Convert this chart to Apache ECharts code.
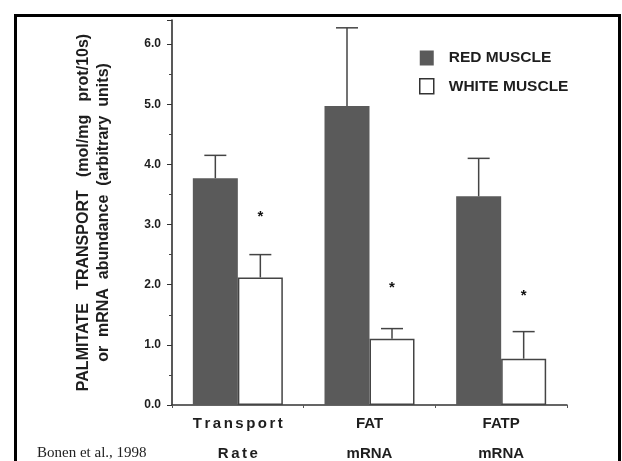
<!DOCTYPE html>
<html>
<head>
<meta charset="utf-8">
<script src="https://cdn.jsdelivr.net/npm/echarts@6/dist/echarts.min.js"></script>
<style>
html,body{margin:0;padding:0;background:#fff;}
#chart{width:622px;height:461px;}
</style>
</head>
<body>
<div id="chart"></div>
<script>
// ---- data ----
const categories = ['Transport\nRate', 'FAT\nmRNA', 'FATP\nmRNA'];
const seriesNames = ['RED MUSCLE', 'WHITE MUSCLE'];
const redValues = [3.77, 4.97, 3.47];
const redErrTop = [4.15, 6.27, 4.10];
const whiteValues = [2.12, 1.10, 0.77];
const whiteErrTop = [2.50, 1.27, 1.22];
const starValues = [3.18, 2.00, 1.87];
const yTicks = [0, 1, 2, 3, 4, 5, 6];
const yAxisTitle = ['PALMITATE   TRANSPORT   (mol/mg   prot/10s)', 'or  mRNA  abundance  (arbitrary  units)'];
const citation = 'Bonen et al., 1998';

const BAR_W = 45;
const INK = '#1e1e1e';
const RED = '#5a5a5a';

function spaced(s) { return s.split('').join('\u200A\u200A'); }

const chart = echarts.init(document.getElementById('chart'), null, {renderer: 'canvas'});

function errorRender(offsetSign) {
  return function (params, api) {
    const idx = api.value(0);
    const base = api.coord([idx, api.value(1)]);
    const top = api.coord([idx, api.value(2)]);
    const x = base[0] + offsetSign * BAR_W / 2;
    const cap = 11;
    return {
      type: 'group',
      children: [
        {type: 'line', shape: {x1: x, y1: base[1], x2: x, y2: top[1]}, style: {stroke: '#444', lineWidth: 1.5}},
        {type: 'line', shape: {x1: x - cap, y1: top[1], x2: x + cap, y2: top[1]}, style: {stroke: '#444', lineWidth: 1.5}}
      ]
    };
  };
}

const option = {
  backgroundColor: '#fff',
  animation: false,
  textStyle: {fontFamily: '"Liberation Sans", Arial, sans-serif'},
  grid: {left: 172, right: 55, top: 20, bottom: 56, containLabel: false, outerBoundsMode: 'none'},
  legend: {
    orient: 'vertical',
    left: 414,
    top: 45,
    itemWidth: 14,
    itemHeight: 15,
    itemGap: 12,
    icon: 'rect',
    textStyle: {fontSize: 15.5, fontWeight: 'bold', color: INK, padding: [0, 0, 0, 10]},
    data: [
      {name: seriesNames[0], itemStyle: {color: RED, borderWidth: 0}},
      {name: seriesNames[1], itemStyle: {color: '#fff', borderColor: '#333', borderWidth: 1.5}}
    ]
  },
  xAxis: {
    type: 'category',
    data: categories,
    axisLine: {show: true, lineStyle: {color: '#333', width: 1.5}},
    axisTick: {show: true, inside: false, length: 3, lineStyle: {color: '#555'}},
    axisLabel: {
      margin: 4,
      fontSize: 15,
      fontWeight: 'bold',
      color: INK,
      lineHeight: 30,
      formatter: function (v, i) {
        if (i === 0) return v.split('\n').map(spaced).join('\n');
        return v;
      }
    },
    splitLine: {show: false}
  },
  yAxis: {
    type: 'value',
    min: 0,
    max: 6.4,
    interval: 1,
    axisLine: {show: true, lineStyle: {color: '#222', width: 1.5}},
    axisTick: {show: true, length: 5, lineStyle: {color: '#333'}},
    minorTick: {show: true, splitNumber: 2, length: 3, lineStyle: {color: '#444'}},
    splitLine: {show: false},
    axisLabel: {
      margin: 11,
      fontSize: 12,
      fontWeight: 'bold',
      color: INK,
      formatter: function (v) {
        return yTicks.indexOf(v) >= 0 ? v.toFixed(1) : '';
      }
    },
    name: yAxisTitle.join('\n'),
    nameLocation: 'middle',
    nameRotate: 90,
    nameGap: 58,
    nameTextStyle: {fontSize: 16, fontWeight: 'bold', color: INK, lineHeight: 20}
  },
  series: [
    {
      name: seriesNames[0],
      type: 'bar',
      data: redValues,
      barWidth: BAR_W,
      barGap: '0%',
      itemStyle: {color: RED},
      z: 2
    },
    {
      name: seriesNames[1],
      type: 'bar',
      data: whiteValues,
      barWidth: BAR_W,
      barGap: '0%',
      itemStyle: {color: '#fff', borderColor: '#444', borderWidth: 1.5},
      z: 2
    },
    {
      type: 'custom',
      name: 'redErr',
      renderItem: errorRender(-1),
      data: redValues.map((v, i) => [i, v, redErrTop[i]]),
      z: 3,
      silent: true
    },
    {
      type: 'custom',
      name: 'whiteErr',
      renderItem: errorRender(1),
      data: whiteValues.map((v, i) => [i, v, whiteErrTop[i]]),
      z: 3,
      silent: true
    },
    {
      type: 'custom',
      name: 'stars',
      renderItem: function (params, api) {
        const p = api.coord([api.value(0), api.value(1)]);
        return {
          type: 'text',
          x: p[0] + BAR_W / 2,
          y: p[1] + 3,
          style: {text: '*', fill: '#111', fontSize: 15, fontWeight: 'bold', align: 'center', verticalAlign: 'middle', fontFamily: '"Liberation Sans", Arial, sans-serif'}
        };
      },
      data: starValues.map((v, i) => [i, v]),
      z: 3,
      silent: true
    }
  ],
  graphic: [
    {
      type: 'rect',
      left: 13, top: 13,
      shape: {width: 604, height: 470},
      style: {fill: 'none', stroke: '#000', lineWidth: 3},
      z: 10
    },
    {
      type: 'text',
      left: 37, top: 446,
      style: {text: citation, fontSize: 15, fontFamily: '"Liberation Serif", "Times New Roman", serif', fill: '#222'},
      z: 10
    }
  ]
};

chart.setOption(option);
</script>
</body>
</html>
